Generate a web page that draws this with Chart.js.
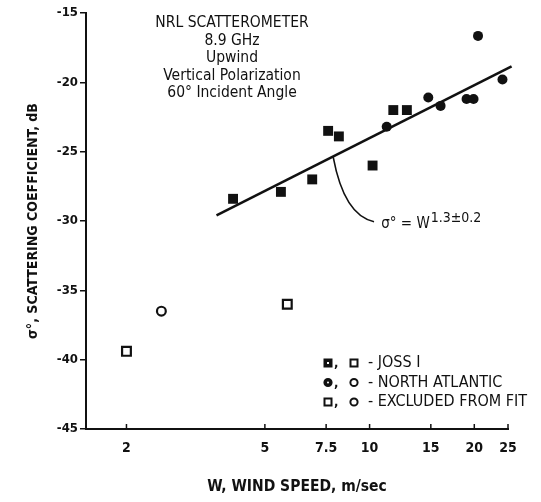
<!DOCTYPE html>
<html>
<head>
<meta charset="utf-8">
<script src="https://cdn.jsdelivr.net/npm/chart.js@4.4.1/dist/chart.umd.min.js"></script>
<style>
  html, body { margin: 0; padding: 0; background: #fff; }
  #wrap { width: 541px; height: 502px; }
</style>
</head>
<body>
<div id="wrap"><canvas id="c" width="541" height="502"></canvas></div>
<script>
// ---- data ----
const xTickValues = [2, 5, 7.5, 10, 15, 20, 25];
const yTickValues = [-45, -40, -35, -30, -25, -20, -15];

// JOSS I (filled squares, used in fit)
const jossX = [4.05, 5.56, 6.84, 7.6, 8.16, 10.2, 11.7, 12.8];
const jossY = [-28.4, -27.9, -27.0, -23.5, -23.9, -26.0, -22.0, -22.0];

// North Atlantic (filled circles, used in fit)
const natlX = [11.2, 14.75, 16.0, 19.0, 19.9, 20.5, 24.1];
const natlY = [-23.2, -21.1, -21.7, -21.2, -21.2, -16.65, -19.8];

// Excluded from fit
const exSqX = [2.0, 5.8];
const exSqY = [-39.4, -36.0];
const exCiX = [2.52];
const exCiY = [-36.5];

// fitted line  sigma0 ~ W^1.3
const fitX = [3.63, 25.6];
const fitY = [-29.6, -18.85];

// annotation curve (data units): start on fit line, control, end
const curveX = [7.86, 8.45, 10.3];
const curveY = [-25.4, -29.6, -30.05];
const eqX = 10.8, eqY = -30.1;

const titleLines = ['NRL SCATTEROMETER', '8.9 GHz', 'Upwind', 'Vertical Polarization', '60° Incident Angle'];
const legendLines = ['- JOSS I', '- NORTH ATLANTIC', '- EXCLUDED FROM FIT'];

const FONT = '"Liberation Sans Narrow", "DejaVu Sans Condensed", "Roboto Condensed", sans-serif';
const INK = '#111';

function pts(xs, ys) { return xs.map((x, i) => ({ x: x, y: ys[i] })); }

const overlay = {
  id: 'overlay',
  afterDatasetsDraw(chart) {
    const ctx = chart.ctx;
    const xs = chart.scales.x, ys = chart.scales.y;
    const ca = chart.chartArea;
    ctx.save();
    // x ticks pointing inward
    ctx.strokeStyle = INK; ctx.lineWidth = 1.5;
    xTickValues.forEach(v => {
      const px = xs.getPixelForValue(v);
      ctx.beginPath(); ctx.moveTo(px, ca.bottom); ctx.lineTo(px, ca.bottom - 5); ctx.stroke();
    });
    // annotation curve
    ctx.lineWidth = 1.6;
    ctx.beginPath();
    ctx.moveTo(xs.getPixelForValue(curveX[0]), ys.getPixelForValue(curveY[0]));
    ctx.quadraticCurveTo(xs.getPixelForValue(curveX[1]), ys.getPixelForValue(curveY[1]),
                         xs.getPixelForValue(curveX[2]), ys.getPixelForValue(curveY[2]));
    ctx.stroke();
    // equation
    ctx.fillStyle = INK;
    ctx.textBaseline = 'middle'; ctx.textAlign = 'left';
    let ex = xs.getPixelForValue(eqX), ey = ys.getPixelForValue(eqY);
    ctx.font = '15px ' + FONT;
    const base = 'σ° = W';
    ctx.fillText(base, ex, ey + 2);
    const bw = ctx.measureText(base).width;
    ctx.font = '14px ' + FONT;
    ctx.fillText('1.3±0.2', ex + bw + 1, ey - 4);
    // title block
    ctx.textAlign = 'center';
    ctx.font = '15.5px ' + FONT;
    const tx = ca.left + 146;
    titleLines.forEach((t, i) => ctx.fillText(t, tx, 23 + i * 17.5));
    // legend
    ctx.textAlign = 'left';
    ctx.font = '16px ' + FONT;
    const lx = 368, ly0 = 363, lstep = 19.5;
    legendLines.forEach((t, i) => ctx.fillText(t, lx, ly0 + i * lstep));
    const sym = (kind, filled, x, y) => {
      ctx.lineWidth = 2; ctx.strokeStyle = INK; ctx.fillStyle = filled ? INK : '#fff';
      ctx.beginPath();
      if (kind === 'sq') ctx.rect(x - 3.5, y - 3.5, 7, 7);
      else ctx.arc(x, y, 3.6, 0, Math.PI * 2);
      ctx.fill(); ctx.stroke();
      if (filled) { ctx.fillStyle = '#fff'; ctx.beginPath(); if (kind === 'sq') ctx.rect(x - 1, y - 1, 2, 2); else ctx.arc(x, y, 1, 0, Math.PI * 2); ctx.fill(); }
    };
    const legendSyms = [['sq', true, 'sq', false], ['ci', true, 'ci', false], ['sq', false, 'ci', false]];
    legendSyms.forEach((s, i) => {
      const y = ly0 + i * lstep;
      sym(s[0], s[1], 328, y);
      ctx.fillStyle = INK; ctx.font = 'bold 13px ' + FONT; ctx.fillText(',', 334, y + 1);
      sym(s[2], s[3], 354, y);
    });
    ctx.restore();
  }
};

new Chart(document.getElementById('c'), {
  type: 'scatter',
  data: {
    datasets: [
      { label: 'fit', type: 'line', data: pts(fitX, fitY), borderColor: INK, borderWidth: 2.6,
        pointRadius: 0, fill: false, clip: false, order: 5 },
      { label: 'JOSS I', data: pts(jossX, jossY), pointStyle: 'rect', pointRadius: 7,
        backgroundColor: INK, borderColor: INK, borderWidth: 0 },
      { label: 'North Atlantic', data: pts(natlX, natlY), pointStyle: 'circle', pointRadius: 5,
        backgroundColor: INK, borderColor: INK, borderWidth: 0 },
      { label: 'Excluded squares', data: pts(exSqX, exSqY), pointStyle: 'rect', pointRadius: 6.2,
        backgroundColor: '#fff', borderColor: INK, borderWidth: 2.2 },
      { label: 'Excluded circles', data: pts(exCiX, exCiY), pointStyle: 'circle', pointRadius: 4.4,
        backgroundColor: '#fff', borderColor: INK, borderWidth: 2.2 }
    ]
  },
  options: {
    responsive: false,
    animation: false,
    events: [],
    layout: { padding: { top: 13, right: 33, left: 0, bottom: 0 } },
    plugins: { legend: { display: false }, tooltip: { enabled: false }, title: { display: false } },
    scales: {
      x: {
        type: 'logarithmic', min: 1.53, max: 25,
        afterBuildTicks: s => { s.ticks = xTickValues.map(v => ({ value: v })); },
        afterFit: s => { s.height = 73; },
        ticks: { color: INK, font: { family: FONT, size: 14, weight: 'bold' }, padding: 11,
                 autoSkip: false, maxRotation: 0, callback: v => String(v) },
        grid: { display: true, drawOnChartArea: false, drawTicks: false, color: INK },
        border: { display: true, color: INK, width: 2 },
        title: { display: true, text: 'W, WIND SPEED, m/sec', color: INK,
                 font: { family: FONT, size: 15.5, weight: 'bold' }, padding: { top: 0, bottom: 6 } }
      },
      y: {
        type: 'linear', min: -45, max: -15,
        afterBuildTicks: s => { s.ticks = yTickValues.map(v => ({ value: v })); },
        afterFit: s => { s.width = 86; },
        ticks: { color: INK, font: { family: FONT, size: 13, weight: 'bold' }, padding: 2 },
        grid: { display: true, drawOnChartArea: false, drawTicks: true, tickLength: 6, color: INK, lineWidth: 1.5 },
        border: { display: true, color: INK, width: 2 },
        title: { display: true, text: 'σ°, SCATTERING COEFFICIENT, dB', color: INK,
                 font: { family: FONT, size: 14, weight: 'bold' }, padding: { top: 25, bottom: 0 } }
      }
    }
  },
  plugins: [overlay]
});
</script>
</body>
</html>
